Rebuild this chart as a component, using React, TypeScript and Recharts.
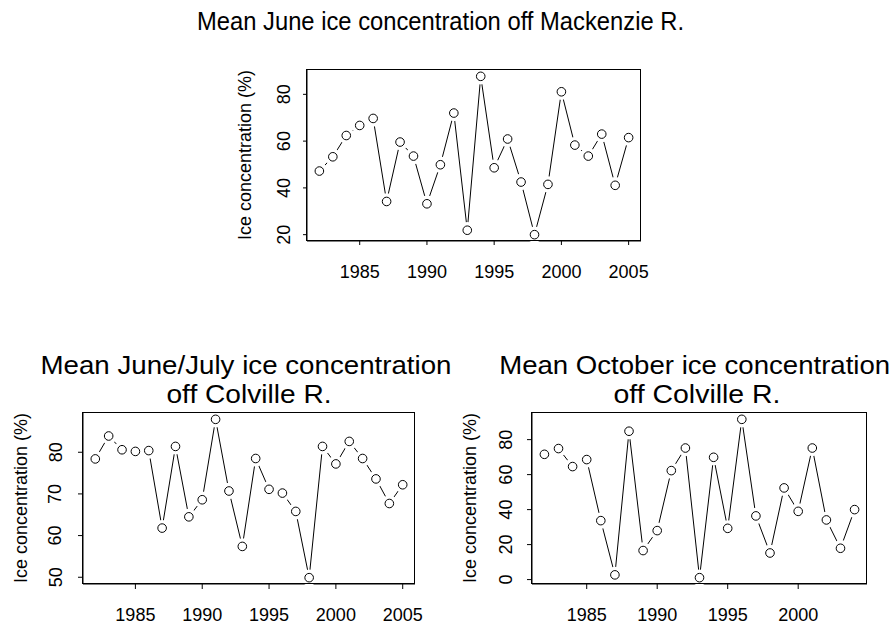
import { LineChart, Line, XAxis, YAxis } from "recharts"

const FONT = '"Liberation Sans", Arial, Helvetica, sans-serif'

// years with data
const yearsLong = [
  1982, 1983, 1984, 1985, 1986, 1987, 1988, 1989, 1990, 1991, 1992, 1993,
  1994, 1995, 1996, 1997, 1998, 1999, 2000, 2001, 2002, 2003, 2004, 2005,
]
const yearsShort = [
  1982, 1983, 1984, 1985, 1986, 1987, 1988, 1989, 1990, 1991, 1992, 1993,
  1994, 1995, 1996, 1997, 1998, 1999, 2000, 2001, 2002, 2003, 2004,
]

// ice concentration (%)
const mackenzieJune = [
  47.2, 53.3, 62.4, 66.7, 69.7, 34.2, 59.6, 53.6, 33.2, 49.9, 72.0, 21.9,
  87.7, 48.6, 60.9, 42.5, 20.0, 41.5, 81.1, 58.3, 53.6, 63.0, 41.1, 61.5,
]
const colvilleJuneJuly = [
  78.4, 83.9, 80.6, 80.2, 80.4, 61.8, 81.4, 64.5, 68.6, 87.9, 70.7, 57.4,
  78.5, 71.1, 70.2, 65.8, 49.9, 81.4, 77.2, 82.6, 78.5, 73.6, 67.7, 72.2,
]
const colvilleOctober = [
  71.6, 74.9, 64.6, 68.6, 33.7, 2.7, 84.8, 16.6, 28.0, 62.3, 75.2, 1.1,
  69.9, 29.3, 91.6, 36.4, 15.2, 52.4, 39.0, 75.2, 34.1, 17.9, 40.0,
]

const xTicksLong = [1985, 1990, 1995, 2000, 2005]
const xTicksShort = [1985, 1990, 1995, 2000]
const yTicksMackenzie = [20, 40, 60, 80]
const yTicksJuneJuly = [50, 60, 70, 80]
const yTicksOctober = [0, 20, 40, 60, 80]

const yLabel = "Ice concentration (%)"

// R style axis range: data range plus 4% each side
const padRange = (vals: number[]): [number, number] => {
  const lo = Math.min(...vals)
  const hi = Math.max(...vals)
  const d = (hi - lo) * 0.04
  return [lo - d, hi + d]
}

const ML = 90
const MT = 10
const MR = 10
const XH = 60

type Box = { x0: number; x1: number; y0: number; y1: number }

function Panel({
  box,
  years,
  values,
  xTicks,
  yTicks,
  tickLen,
  xGap,
  yGap,
}: {
  box: Box
  years: number[]
  values: number[]
  xTicks: number[]
  yTicks: number[]
  tickLen: number
  xGap: number
  yGap: number
}) {
  const rows = years.map((year, i) => ({ year, value: values[i] }))
  const xDom = padRange(years)
  const yDom = padRange(values)
  const w = box.x1 - box.x0 + ML + MR
  const h = box.y1 - box.y0 + MT + XH

  const RotTick = (p: any) => (
    <text
      x={p.x}
      y={p.y}
      transform={`rotate(-90, ${p.x}, ${p.y})`}
      textAnchor="middle"
      fontSize={18}
      fontFamily={FONT}
      fill="#000"
    >
      {p.payload.value}
    </text>
  )

  return (
    <div style={{ position: "absolute", left: box.x0 - ML, top: box.y0 - MT }}>
      <LineChart width={w} height={h} data={rows} margin={{ top: MT, right: MR, bottom: 0, left: 0 }}>
        {/* white halos make the segments stop short of the circles (R type "b") */}
        <Line
          dataKey="value"
          stroke="#000"
          strokeWidth={1}
          isAnimationActive={false}
          activeDot={false}
          dot={(p: any) => <circle key={`h${p.index}`} cx={p.cx} cy={p.cy} r={8.2} fill="#fff" stroke="none" />}
        />
        <Line
          dataKey="value"
          stroke="none"
          isAnimationActive={false}
          activeDot={false}
          dot={(p: any) => (
            <circle key={`c${p.index}`} cx={p.cx} cy={p.cy} r={4.3} fill="none" stroke="#000" strokeWidth={1} />
          )}
        />
        <XAxis
          type="number"
          dataKey="year"
          domain={xDom}
          ticks={xTicks}
          height={XH}
          tickSize={tickLen}
          tickMargin={xGap}
          axisLine={{ stroke: "#000" }}
          tickLine={{ stroke: "#000" }}
          tick={{ fontSize: 18, fill: "#000", fontFamily: FONT }}
        />
        <YAxis
          type="number"
          domain={yDom}
          ticks={yTicks}
          width={ML}
          tickSize={tickLen}
          tickMargin={yGap}
          axisLine={{ stroke: "#000" }}
          tickLine={{ stroke: "#000" }}
          tick={RotTick}
        />
      </LineChart>
    </div>
  )
}

const box1 = { x0: 306.5, x1: 640.5, y0: 69.5, y1: 240.5 }
const box2 = { x0: 82.5, x1: 414.5, y0: 412.5, y1: 583.5 }
const box3 = { x0: 531.5, x1: 866.5, y0: 412.5, y1: 583.5 }

export default function App() {
  const textProps = { fontFamily: FONT, fill: "#000", textAnchor: "middle" as const }
  const boxes = [box1, box2, box3]
  return (
    <div style={{ position: "absolute", left: 0, top: 0, width: 896, height: 623, background: "#fff" }}>
      <Panel box={box1} years={yearsLong} values={mackenzieJune} xTicks={xTicksLong} yTicks={yTicksMackenzie} tickLen={4} xGap={20} yGap={12.5} />
      <Panel box={box2} years={yearsLong} values={colvilleJuneJuly} xTicks={xTicksLong} yTicks={yTicksJuneJuly} tickLen={5} xGap={19} yGap={16.5} />
      <Panel box={box3} years={yearsShort} values={colvilleOctober} xTicks={xTicksShort} yTicks={yTicksOctober} tickLen={5} xGap={19} yGap={15} />
      <svg width={896} height={623} style={{ position: "absolute", left: 0, top: 0, pointerEvents: "none" }}>
        {boxes.map((b, i) => (
          <rect key={`f${i}`} x={b.x0} y={b.y0} width={b.x1 - b.x0} height={b.y1 - b.y0} fill="none" stroke="#000" strokeWidth={1} />
        ))}
        <text {...textProps} x={440.5} y={30} fontSize={25} textLength={487} lengthAdjust="spacingAndGlyphs">
          Mean June ice concentration off Mackenzie R.
        </text>
        <text {...textProps} x={246} y={373.5} fontSize={25} textLength={411} lengthAdjust="spacingAndGlyphs">
          Mean June/July ice concentration
        </text>
        <text {...textProps} x={249} y={402.5} fontSize={25} textLength={165} lengthAdjust="spacingAndGlyphs">
          off Colville R.
        </text>
        <text {...textProps} x={694.7} y={373.5} fontSize={25} textLength={391} lengthAdjust="spacingAndGlyphs">
          Mean October ice concentration
        </text>
        <text {...textProps} x={697} y={402.5} fontSize={25} textLength={167} lengthAdjust="spacingAndGlyphs">
          off Colville R.
        </text>
        {boxes.map((b, i) => {
          const cx = b.x0 - 56
          const cy = (b.y0 + b.y1) / 2
          return (
            <text key={`l${i}`} {...textProps} x={cx} y={cy} fontSize={18} transform={`rotate(-90, ${cx}, ${cy})`}>
              {yLabel}
            </text>
          )
        })}
      </svg>
    </div>
  )
}
